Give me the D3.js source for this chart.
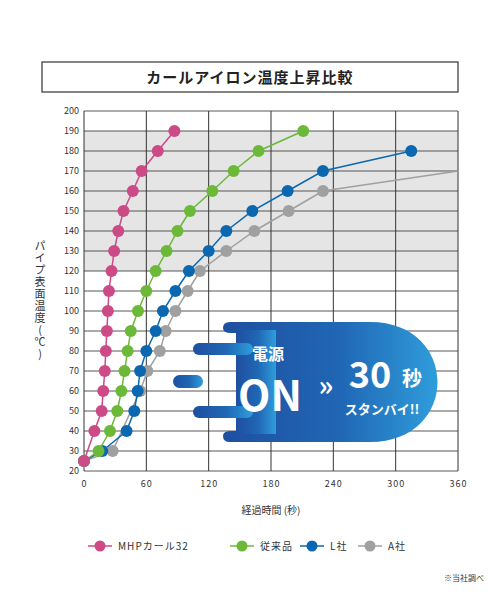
<!DOCTYPE html><html><head><meta charset="utf-8"><script src="https://cdn.jsdelivr.net/npm/d3@7"></script>
<style>body{margin:0;background:#fff}text{font-family:"Noto Sans CJK JP","Noto Sans",sans-serif}</style></head><body>
<script>
const title="カールアイロン温度上昇比較";
const seriesNames=["MHPカール32","従来品","L社","A社"];
const colors=["#cc4b87","#6cb93a","#0b68b0","#a0a0a0"];
const mhp=[[0,25],[10,40],[17,50],[18.5,60],[20,70],[21,80],[22,90],[23,100],[24,110],[26.5,120],[29,130],[33,140],[38,150],[47,160],[55.5,170],[71,180],[87,190]];
const conv=[[0,25],[14,30],[25,40],[32,50],[36,60],[39,70],[42,80],[45,90],[52,100],[60,110],[69,120],[79.5,130],[90,140],[102,150],[123.5,160],[144,170],[168,180],[211,190]];
const lco=[[0,25],[17.6,30],[41,40],[48.4,50],[51.7,60],[54,70],[60,80],[69,90],[76,100],[88,110],[101,120],[120,130],[137,140],[162,150],[196,160],[230,170],[315,180]];
const aco=[[0,25],[27.6,30],[54,60],[61,70],[73,80],[78.6,90],[88,100],[99.8,110],[111.6,120],[137,130],[164,140],[197,150],[230,160]];
const aTail=[230,160,360,170];
const xTicks=[0,60,120,180,240,300,360];
const yTicks=d3.range(20,201,10);
const data=[mhp,conv,lco,aco];

const svg=d3.select("body").append("svg").attr("width",500).attr("height",600);
svg.append("rect").attr("x",42).attr("y",62).attr("width",416).attr("height",30).attr("fill","none").attr("stroke","#333").attr("stroke-width",1.2);
svg.append("text").attr("x",250).attr("y",83).attr("text-anchor","middle").attr("font-size",15).attr("font-weight","bold").attr("fill","#222").attr("letter-spacing",1).text(title);

const x=d3.scaleLinear().domain([0,360]).range([84,458]);
const y=d3.scaleLinear().domain([20,200]).range([471,111]);
svg.append("rect").attr("x",x(0)).attr("y",y(190)).attr("width",x(360)-x(0)).attr("height",y(120)-y(190)).attr("fill","#e5e5e5");
const g=svg.append("g");
yTicks.forEach(t=>g.append("line").attr("x1",x(0)).attr("x2",x(360)).attr("y1",y(t)).attr("y2",y(t)).attr("stroke","#444").attr("stroke-width",0.9));
xTicks.forEach(t=>g.append("line").attr("x1",x(t)).attr("x2",x(t)).attr("y1",y(20)).attr("y2",y(200)).attr("stroke","#333").attr("stroke-width",1));
svg.append("g").attr("transform",`translate(0,${y(20)})`).call(d3.axisBottom(x).tickValues(xTicks).tickSize(0).tickPadding(10)).call(a=>a.select(".domain").remove()).selectAll("text").attr("font-size",9).attr("fill","#333").attr("letter-spacing",1);
svg.append("g").attr("transform",`translate(${x(0)},0)`).call(d3.axisLeft(y).tickValues(yTicks).tickSize(0).tickPadding(5)).call(a=>a.select(".domain").remove()).selectAll("text").attr("font-size",9).attr("fill","#333");
svg.append("text").attr("x",40).attr("y",240).attr("font-size",11).attr("fill","#333").style("writing-mode","vertical-rl").style("text-orientation","upright").attr("letter-spacing",1).text("パイプ表面温度(℃)");
svg.append("text").attr("x",271).attr("y",514).attr("text-anchor","middle").attr("font-size",10).attr("fill","#333").text("経過時間 (秒)");

const line=d3.line().x(d=>x(d[0])).y(d=>y(d[1]));
[3,2,1,0].forEach(i=>{
  if(i===3) svg.append("line").attr("x1",x(aTail[0])).attr("y1",y(aTail[1])).attr("x2",x(aTail[2])).attr("y2",y(aTail[3])).attr("stroke",colors[3]).attr("stroke-width",1.5);
  svg.append("path").attr("d",line(data[i])).attr("fill","none").attr("stroke",colors[i]).attr("stroke-width",1.5);
  svg.selectAll(null).data(data[i]).enter().append("circle").attr("cx",d=>x(d[0])).attr("cy",d=>y(d[1])).attr("r",6).attr("fill",colors[i]);
});

// badge
const defs=svg.append("defs");
const gr=defs.append("linearGradient").attr("id","bg").attr("x1","0").attr("x2","1");
gr.append("stop").attr("offset","0").attr("stop-color","#1f4fa0");
gr.append("stop").attr("offset","0.55").attr("stop-color","#2067b5");
gr.append("stop").attr("offset","1").attr("stop-color","#2f9ddb");
const b=svg.append("g").attr("fill","url(#bg)");
b.append("path").attr("d","M230,322 L370,322 C460,322 460,442 370,442 L230,442 Q223,442 223,436 Q223,431 231,431 L240,431 L240,333 L231,333 Q223,333 223,328 Q223,322 230,322 Z");
b.append("rect").attr("x",236).attr("y",330).attr("width",40).attr("height",104);
b.append("rect").attr("x",193).attr("y",343).attr("width",60).attr("height",12).attr("rx",6);
b.append("rect").attr("x",193).attr("y",406).attr("width",60).attr("height",12).attr("rx",6);
b.append("rect").attr("x",173).attr("y",375).attr("width",30).attr("height",13).attr("rx",6.5);
svg.append("text").attr("x",268).attr("y",360).attr("text-anchor","middle").attr("font-size",16).attr("font-weight","bold").attr("fill","#fff").text("電源");
svg.append("text").attr("x",270).attr("y",411).attr("text-anchor","middle").attr("font-size",42).attr("font-weight","bold").attr("fill","#fff").attr("font-family","Roboto").text("ON");
svg.append("text").attr("x",326).attr("y",396).attr("text-anchor","middle").attr("font-size",28).attr("font-weight","bold").attr("fill","#fff").text("»");
svg.append("text").attr("x",370).attr("y",388).attr("text-anchor","middle").attr("font-size",36).attr("font-weight","bold").attr("fill","#fff").attr("font-family","Roboto").text("30");
svg.append("text").attr("x",412).attr("y",386).attr("text-anchor","middle").attr("font-size",20).attr("font-weight","bold").attr("fill","#fff").text("秒");
svg.append("text").attr("x",382).attr("y",414).attr("text-anchor","middle").attr("font-size",13).attr("font-weight","bold").attr("fill","#fff").text("スタンバイ!!");

// legend
const lx=[88,230,300,358];
seriesNames.forEach((n,i)=>{
  svg.append("line").attr("x1",lx[i]).attr("x2",lx[i]+24).attr("y1",546).attr("y2",546).attr("stroke",colors[i]).attr("stroke-width",1.5);
  svg.append("circle").attr("cx",lx[i]+12).attr("cy",546).attr("r",5.5).attr("fill",colors[i]);
  svg.append("text").attr("x",lx[i]+30).attr("y",550).attr("font-size",10).attr("fill","#333").attr("letter-spacing",1).text(n);
});
svg.append("text").attr("x",484).attr("y",581).attr("text-anchor","end").attr("font-size",8).attr("fill","#333").text("※当社調べ");
</script></body></html>
